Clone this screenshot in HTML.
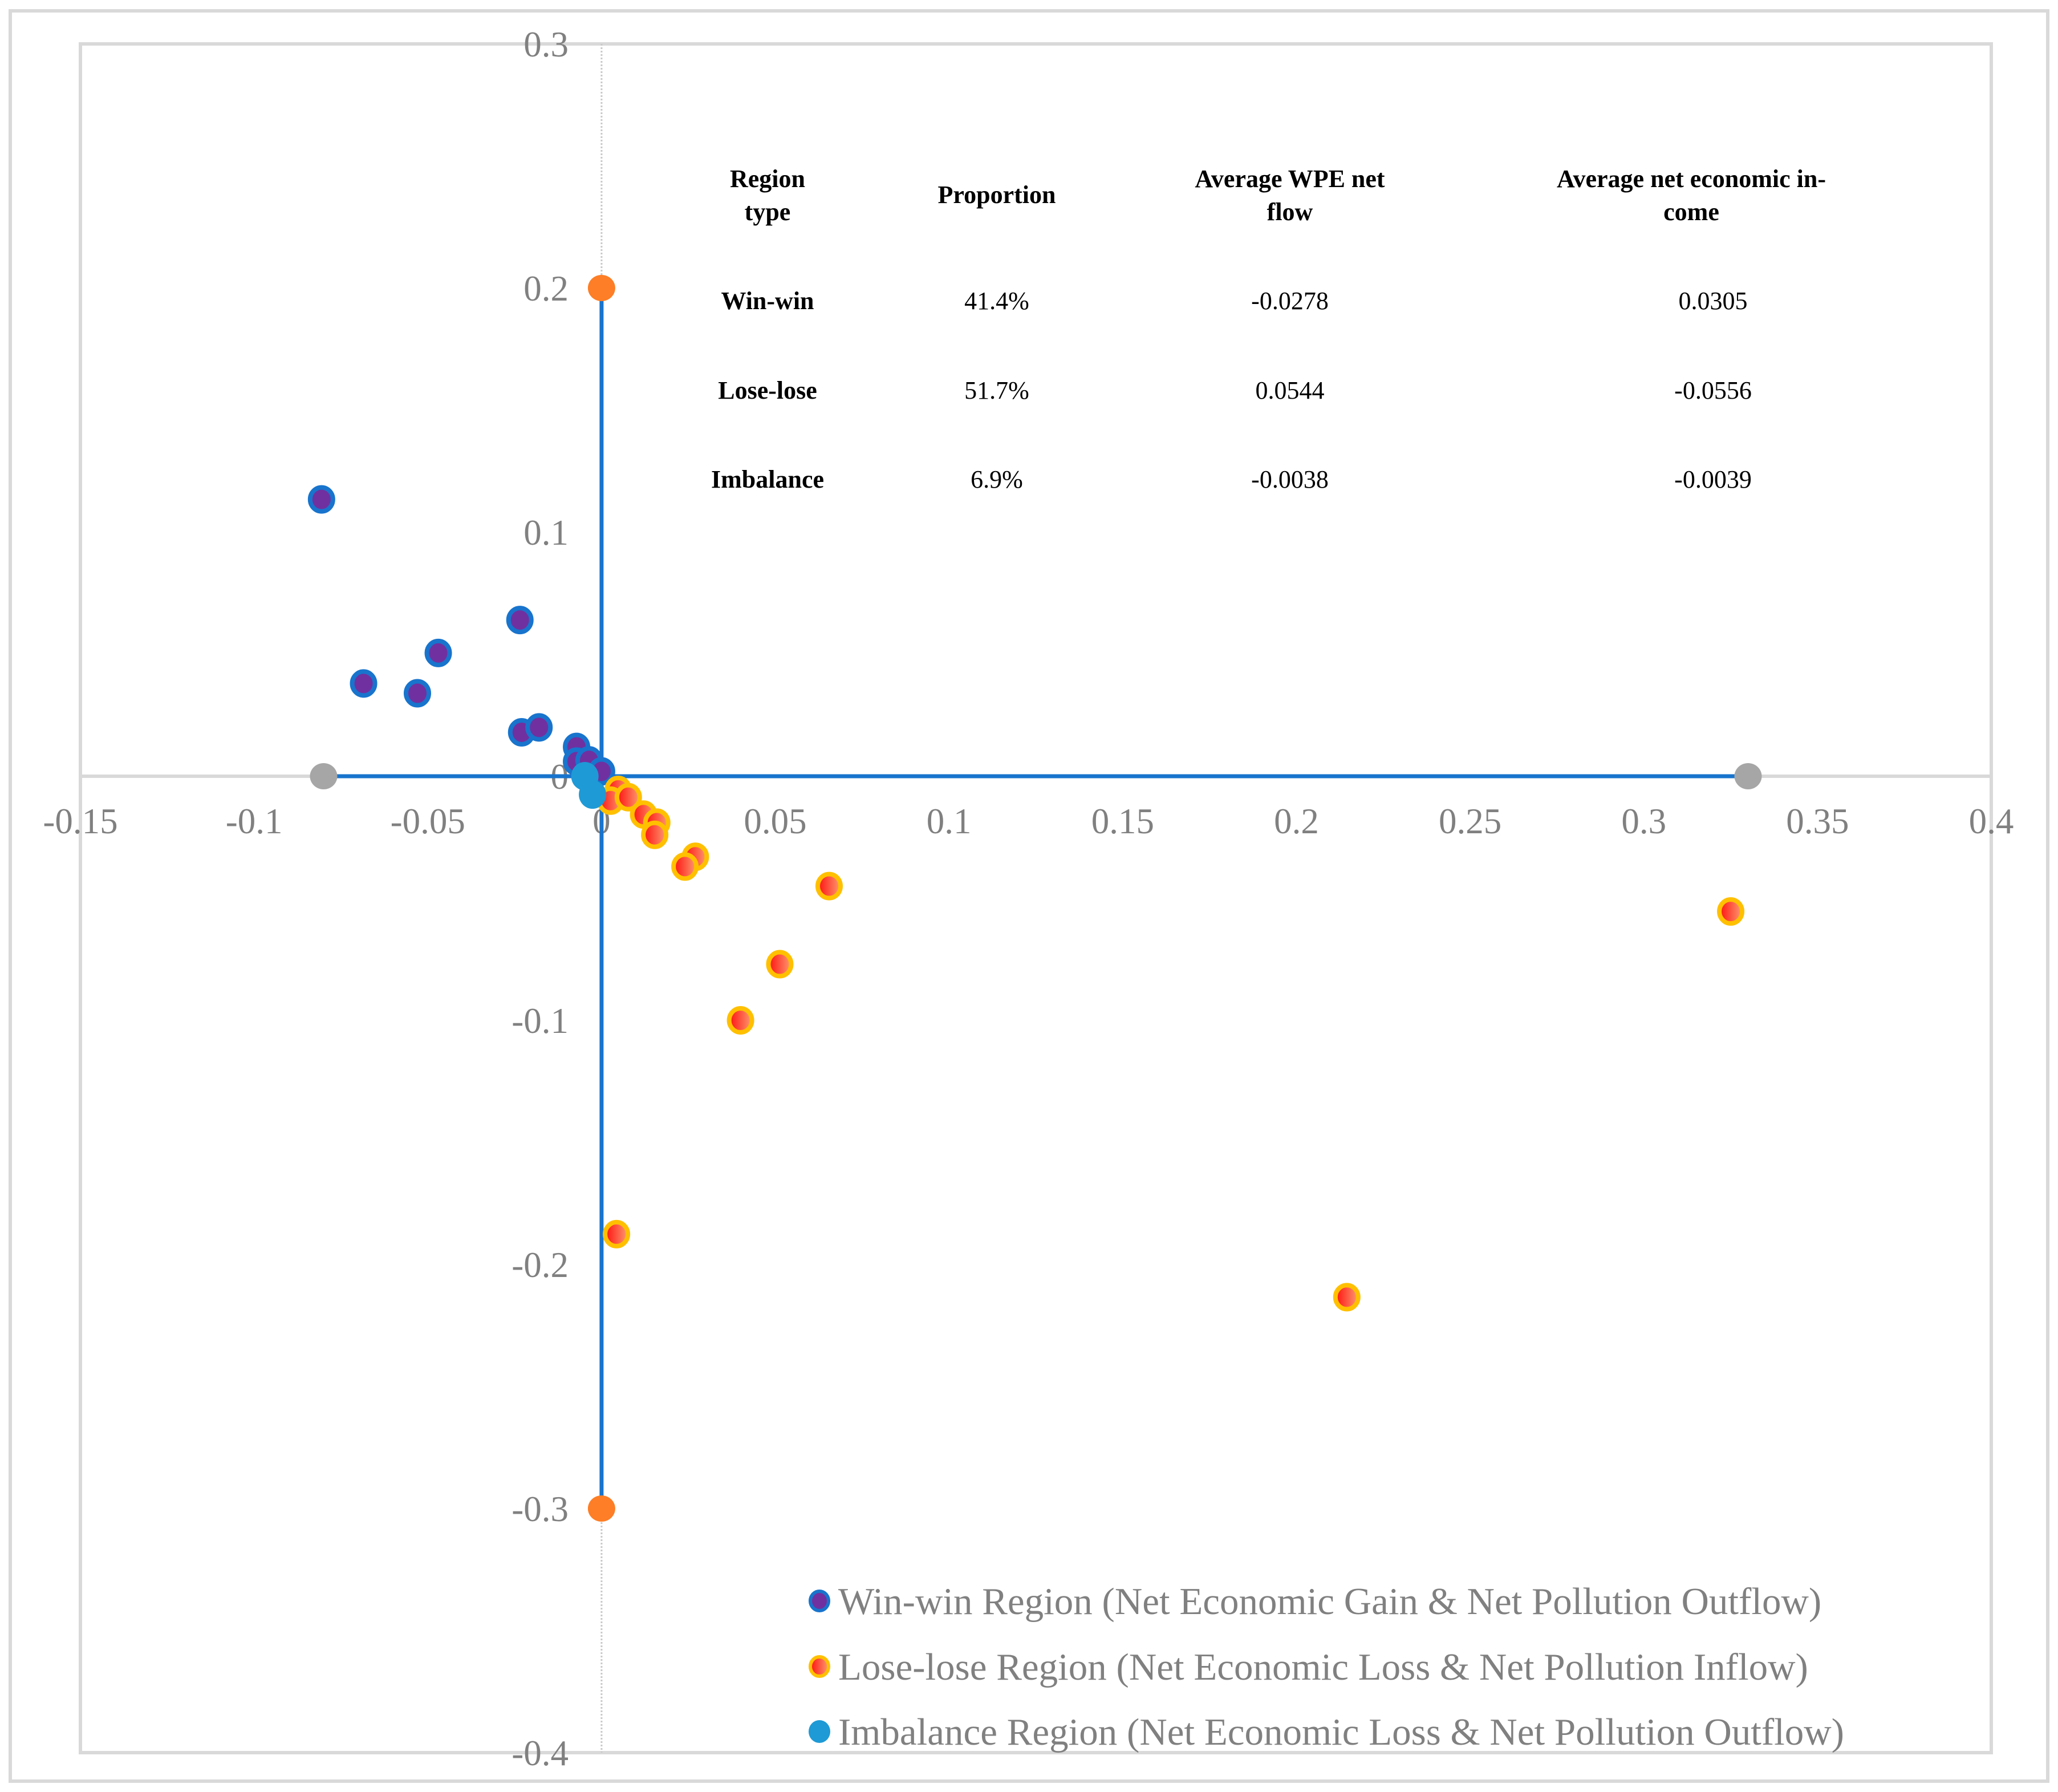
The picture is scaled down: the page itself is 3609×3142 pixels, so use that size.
<!DOCTYPE html>
<html><head><meta charset="utf-8"><style>
html,body{margin:0;padding:0;background:#fff;}
svg{display:block;font-family:"Liberation Serif",serif;}
</style></head><body>
<svg id="chart" width="3609" height="3142" viewBox="0 0 3609 3142" xmlns="http://www.w3.org/2000/svg">
<defs>
<linearGradient id="redgrad" x1="0" y1="0" x2="1" y2="0">
<stop offset="0" stop-color="#ff1010"/><stop offset="1" stop-color="#ff9a70"/>
</linearGradient>
</defs>
<rect x="18" y="19" width="3573" height="3104" fill="none" stroke="#d9d9d9" stroke-width="6"/>
<rect x="141" y="77" width="3351" height="2996" fill="none" stroke="#d9d9d9" stroke-width="6"/>
<g id="axes"></g>
<g id="marks"></g>
<g font-size="44" text-anchor="middle" fill="#000">
<text font-weight="bold" x="1346" y="328">Region</text>
<text font-weight="bold" x="1346" y="386">type</text>
<text font-weight="bold" x="1748" y="356">Proportion</text>
<text font-weight="bold" x="2262" y="328">Average WPE net</text>
<text font-weight="bold" x="2262" y="386">flow</text>
<text font-weight="bold" x="2966" y="328">Average net economic in-</text>
<text font-weight="bold" x="2966" y="386">come</text>
<text font-weight="bold" x="1346" y="542">Win-win</text>
<text x="1748" y="542">41.4%</text>
<text x="2262" y="542">-0.0278</text>
<text x="3004" y="542">0.0305</text>
<text font-weight="bold" x="1346" y="699">Lose-lose</text>
<text x="1748" y="699">51.7%</text>
<text x="2262" y="699">0.0544</text>
<text x="3004" y="699">-0.0556</text>
<text font-weight="bold" x="1346" y="855">Imbalance</text>
<text x="1748" y="855">6.9%</text>
<text x="2262" y="855">-0.0038</text>
<text x="3004" y="855">-0.0039</text>
</g>
<g font-size="67" fill="#808080">
<ellipse cx="1437" cy="2807" rx="16" ry="17" fill="#7030a0" stroke="#1874cd" stroke-width="6"/>
<text x="1470" y="2830">Win-win Region (Net Economic Gain &amp; Net Pollution Outflow)</text>
<ellipse cx="1437" cy="2922" rx="16" ry="17" fill="url(#redgrad)" stroke="#ffc000" stroke-width="6"/>
<text x="1470" y="2945">Lose-lose Region (Net Economic Loss &amp; Net Pollution Inflow)</text>
<ellipse cx="1437" cy="3036" rx="19" ry="20" fill="#1e9ad6"/>
<text x="1470" y="3059">Imbalance Region (Net Economic Loss &amp; Net Pollution Outflow)</text>
</g>
</svg>
<script>
const xTicks = [-0.15, -0.1, -0.05, 0, 0.05, 0.1, 0.15, 0.2, 0.25, 0.3, 0.35, 0.4];
const xTickLabels = ["-0.15","-0.1","-0.05","0","0.05","0.1","0.15","0.2","0.25","0.3","0.35","0.4"];
const yTicks = [0.3, 0.2, 0.1, 0, -0.1, -0.2, -0.3, -0.4];
const yTickLabels = ["0.3","0.2","0.1","0","-0.1","-0.2","-0.3","-0.4"];
const winX = [-0.0806, -0.0685, -0.053, -0.047, -0.0235, -0.023, -0.018, -0.0072, -0.0072, -0.0036, 0];
const winY = [0.1134, 0.038, 0.034, 0.0505, 0.064, 0.018, 0.020, 0.012, 0.006, 0.0065, 0.002];
const loseX = [0.0048, 0.0026, 0.0077, 0.0121, 0.0159, 0.0153, 0.027, 0.024, 0.0655, 0.0513, 0.040, 0.0043, 0.2145, 0.325];
const loseY = [-0.0056, -0.010, -0.0086, -0.0157, -0.019, -0.024, -0.033, -0.037, -0.045, -0.077, -0.100, -0.1876, -0.2134, -0.0554];
const imbX = [-0.0048, -0.0026];
const imbY = [0, -0.0075];
const quadX = [0, 0];
const quadY = [0.2, -0.3];
const boundX = [-0.08, 0.33];
const boundY = [0, 0];

const NS = "http://www.w3.org/2000/svg";
const X0 = 141, X1 = 3492, Y0 = 77, Y1 = 3073;
function sx(v){ return X0 + (v + 0.15) / 0.55 * (X1 - X0); }
function sy(v){ return Y0 + (0.3 - v) / 0.7 * (Y1 - Y0); }
function mk(tag, attrs, parent){
  const e = document.createElementNS(NS, tag);
  for (const k in attrs) e.setAttribute(k, attrs[k]);
  parent.appendChild(e);
  return e;
}
const axes = document.getElementById("axes");
const marks = document.getElementById("marks");

let l = mk("line", {x1: X0, x2: X1, y1: sy(0), y2: sy(0), stroke: "#d9d9d9", "stroke-width": 6}, axes);


l = mk("line", {x1: sx(0), x2: sx(0), y1: Y0, y2: Y1, stroke: "#c8c8c8", "stroke-width": 3, "stroke-dasharray": "3 3"}, axes);



xTicks.forEach((v, i) => {
  const t = mk("text", {x: sx(v), y: sy(0) + 100, "font-size": 63, fill: "#808080", "text-anchor": "middle"}, axes);
  t.textContent = xTickLabels[i];
  
  
});
yTicks.forEach((v, i) => {
  const t = mk("text", {x: 997, y: sy(v) + 22, "font-size": 63, fill: "#808080", "text-anchor": "end"}, axes);
  t.textContent = yTickLabels[i];
  
  
});

l = mk("line", {x1: sx(boundX[0]), x2: sx(boundX[1]), y1: sy(boundY[0]), y2: sy(boundY[1]), stroke: "#1874cd", "stroke-width": 7}, marks);


l = mk("line", {x1: sx(quadX[0]), x2: sx(quadX[1]), y1: sy(quadY[0]), y2: sy(quadY[1]), stroke: "#1874cd", "stroke-width": 7}, marks);



boundX.forEach((v, i) => {
  const c = mk("ellipse", {cx: sx(v), cy: sy(boundY[i]), rx: 24, ry: 23, fill: "#a6a6a6"}, marks);
  
  
});
quadX.forEach((v, i) => {
  const c = mk("ellipse", {cx: sx(v), cy: sy(quadY[i]), rx: 24, ry: 23, fill: "#fd7e26"}, marks);
  
  
});
winX.forEach((v, i) => {
  const c = mk("ellipse", {cx: sx(v), cy: sy(winY[i]), rx: 20, ry: 21, fill: "#7030a0", stroke: "#1874cd", "stroke-width": 8}, marks);
  
  
});
loseX.forEach((v, i) => {
  const c = mk("ellipse", {cx: sx(v), cy: sy(loseY[i]), rx: 20, ry: 21, fill: "url(#redgrad)", stroke: "#ffc000", "stroke-width": 8}, marks);
  
  
});
imbX.forEach((v, i) => {
  const c = mk("ellipse", {cx: sx(v), cy: sy(imbY[i]), rx: 24, ry: 25, fill: "#1e9ad6"}, marks);
  
  
});
</script>
</body></html>
